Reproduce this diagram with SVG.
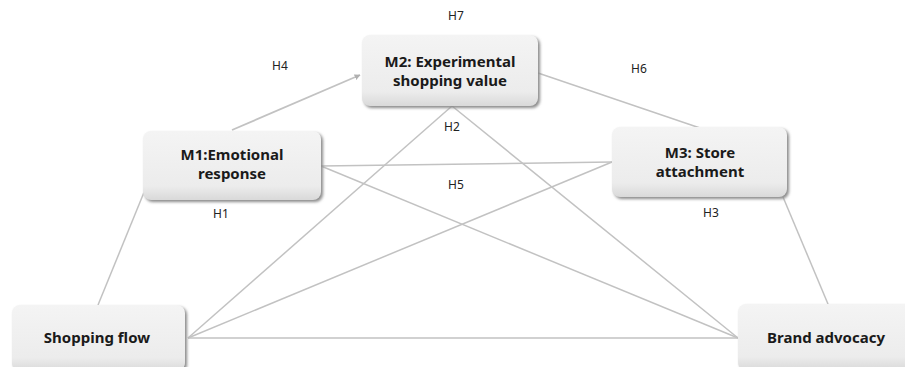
<svg xmlns="http://www.w3.org/2000/svg" width="905" height="367" viewBox="0 0 905 367">
<style>
.box{fill:url(#g);stroke:none}
.sh{fill:#8a8a8a;filter:url(#blur)}
.t{font-family:"Noto Sans","DejaVu Sans",sans-serif;font-weight:bold;font-size:15px;fill:#1a1a1a;text-anchor:middle}
.h{font-family:"Noto Sans","DejaVu Sans",sans-serif;font-size:12px;fill:#222;text-anchor:middle}
.c line{stroke:#c2c2c2;stroke-width:1.5;fill:none}
</style>
<defs>
<linearGradient id="g" x1="0" y1="0" x2="0" y2="1">
<stop offset="0" stop-color="#f4f4f4"/>
<stop offset="0.8" stop-color="#ececec"/>
<stop offset="1" stop-color="#d9d9d9"/>
</linearGradient>
<filter id="blur" x="-10%" y="-10%" width="120%" height="130%"><feGaussianBlur stdDeviation="1.5"/></filter>
<marker id="arr" viewBox="0 0 10 10" refX="9" refY="5" markerWidth="6" markerHeight="6" orient="auto" markerUnits="userSpaceOnUse">
<path d="M0,0 L10,5 L0,10 z" fill="#b0b0b0"/>
</marker>
</defs>
<rect width="905" height="367" fill="#fff"/>
<g class="c" id="connectors">
<line x1="232" y1="130" x2="360" y2="75" marker-end="url(#arr)" style="stroke-width:1.8"/>
<line x1="452" y1="106" x2="188" y2="338"/>
<line x1="452" y1="106" x2="738" y2="338"/>
<line x1="321" y1="166" x2="612" y2="162"/>
<line x1="321" y1="166" x2="738" y2="338"/>
<line x1="188" y1="338" x2="612" y2="162"/>
<line x1="188" y1="338" x2="738" y2="338"/>
<line x1="98" y1="305" x2="147" y2="185"/>
<line x1="538" y1="73" x2="700" y2="128"/>
<line x1="783" y1="197" x2="828" y2="304"/>
</g>
<g id="n-m2">
<rect class="sh" x="364" y="37" width="176" height="71" rx="8"/>
<rect class="box" x="362" y="35" width="176" height="71" rx="8"/>
<text class="t" x="450" y="67">M2: Experimental</text>
<text class="t" x="450" y="86">shopping value</text>
</g>
<g id="n-m1">
<rect class="sh" x="145" y="133" width="178" height="69" rx="8"/>
<rect class="box" x="143" y="131" width="178" height="69" rx="8"/>
<text class="t" x="232" y="160">M1:Emotional</text>
<text class="t" x="232" y="179">response</text>
</g>
<g id="n-m3">
<rect class="sh" x="614" y="129" width="175" height="70" rx="8"/>
<rect class="box" x="612" y="127" width="175" height="70" rx="8"/>
<text class="t" x="700" y="158">M3: Store</text>
<text class="t" x="700" y="177">attachment</text>
</g>
<g id="n-flow">
<rect class="sh" x="14" y="307" width="173" height="66" rx="8"/>
<rect class="box" x="12" y="305" width="173" height="66" rx="8"/>
<text class="t" x="97" y="343">Shopping flow</text>
</g>
<g id="n-brand">
<rect class="sh" x="740" y="306" width="175" height="66" rx="8"/>
<rect class="box" x="738" y="304" width="175" height="66" rx="8"/>
<text class="t" x="826" y="343">Brand advocacy</text>
</g>
<g id="labels">
<text class="h" x="456" y="20">H7</text>
<text class="h" x="280" y="70">H4</text>
<text class="h" x="452" y="131">H2</text>
<text class="h" x="456" y="189">H5</text>
<text class="h" x="639" y="73">H6</text>
<text class="h" x="711" y="217">H3</text>
<text class="h" x="221" y="218">H1</text>
</g>
</svg>
